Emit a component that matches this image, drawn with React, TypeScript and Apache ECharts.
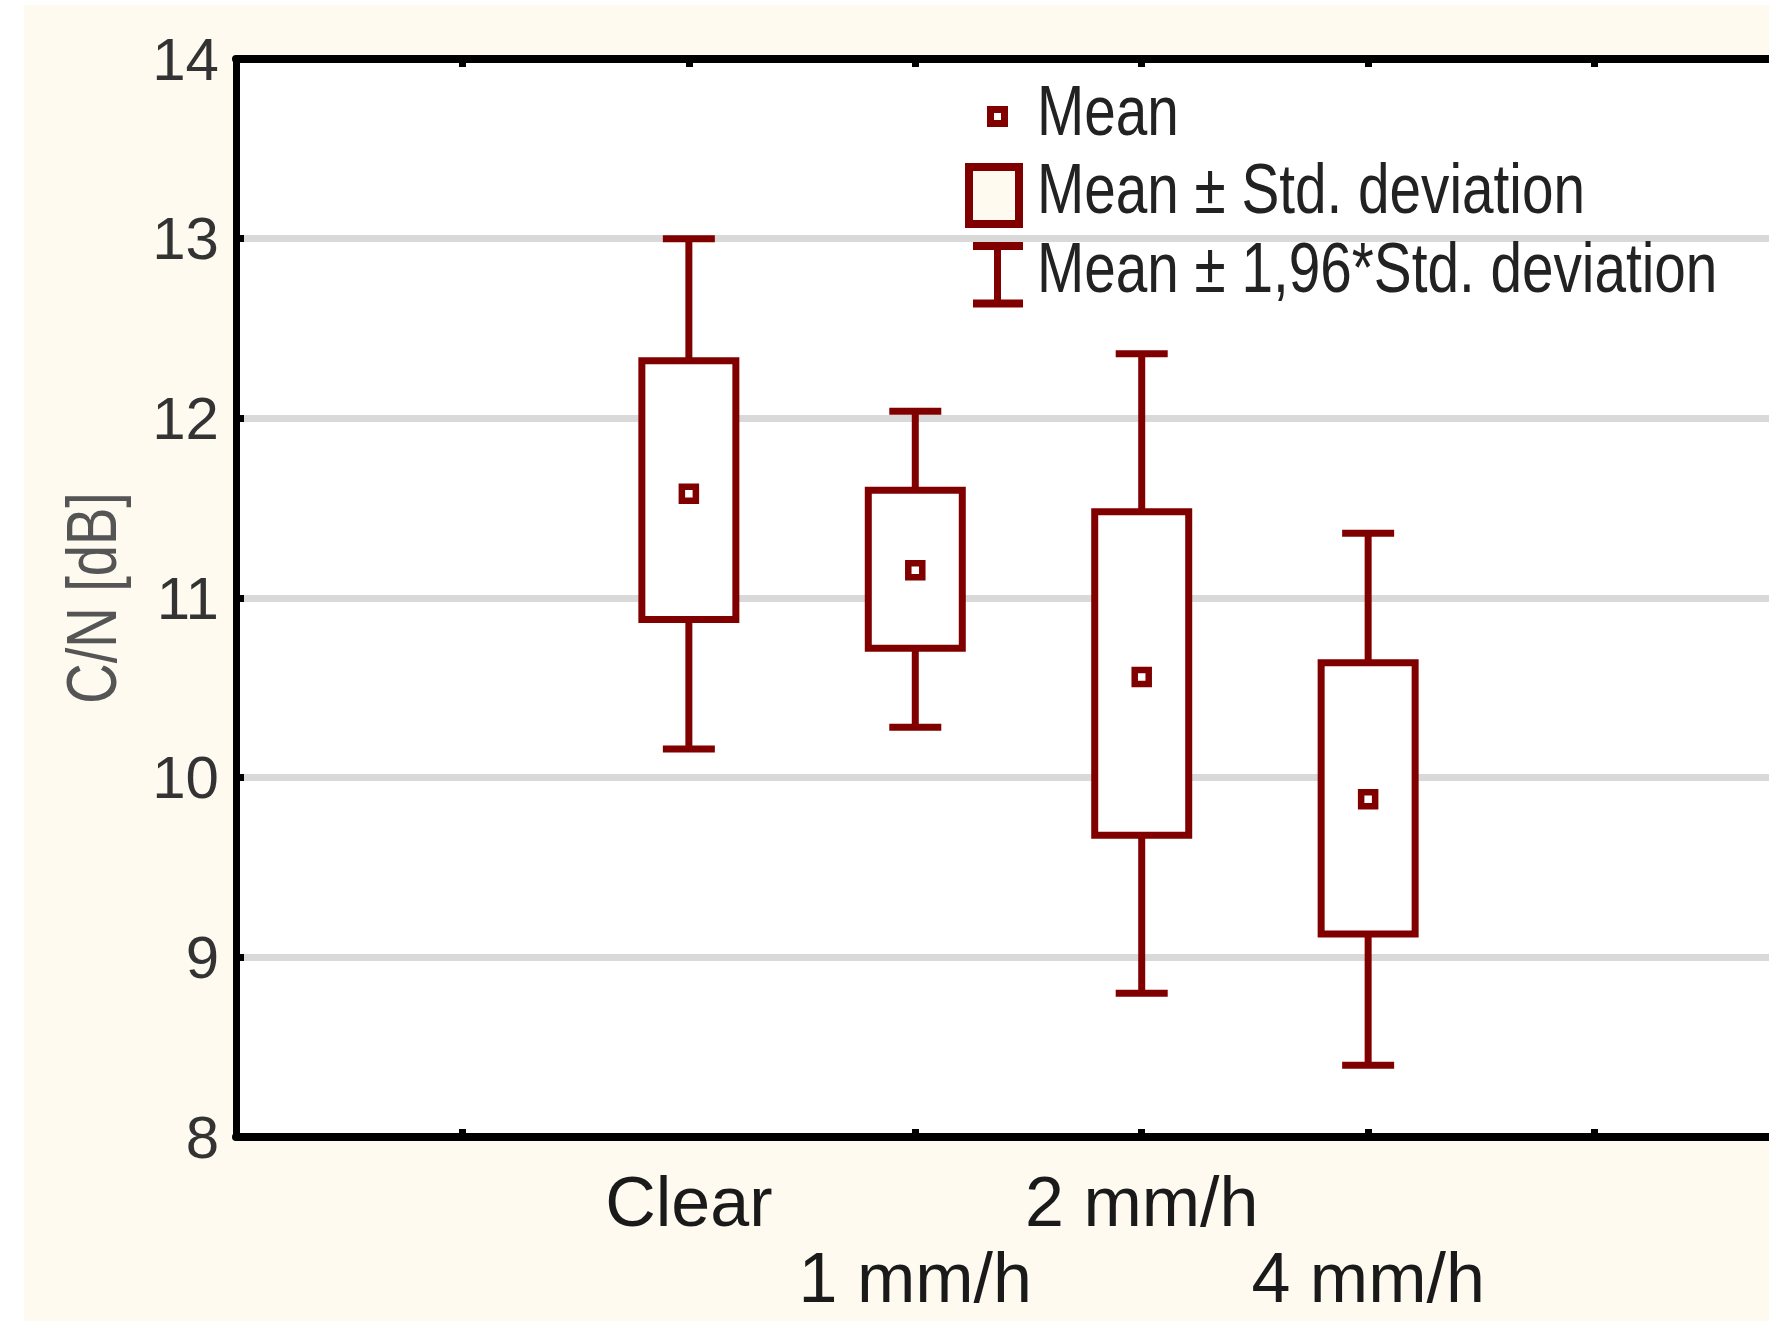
import React, { useEffect, useRef } from "react";
import * as echarts from "echarts";

const categories = ["Clear", "1 mm/h", "2 mm/h", "4 mm/h"];
const positions = [2, 3, 4, 5];
const means = [11.58, 11.155, 10.56, 9.88];
const boxHigh = [12.32, 11.6, 11.48, 10.64];
const boxLow = [10.88, 10.72, 9.68, 9.13];
const whiskerHigh = [13.0, 12.04, 12.36, 11.36];
const whiskerLow = [10.16, 10.28, 8.8, 8.4];
const yTicks = [8, 9, 10, 11, 12, 13, 14];
const bottomTickPositions = [1, 3, 4, 5, 6];
const upperRowPositions = [2, 4];
const lowerRowPositions = [3, 5];
const legendLabels = ["Mean", "Mean ± Std. deviation", "Mean ± 1,96*Std. deviation"];
const yAxisName = "C/N [dB]";

const RED = "#800000";
const CREAM = "#fffaf0";
const SANS = "'Liberation Sans', Arial, sans-serif";

const labelFor = (v: number) => {
  const i = positions.indexOf(Math.round(v));
  return i < 0 ? "" : categories[i];
};

export default function App() {
  const ref = useRef<HTMLDivElement>(null);
  useEffect(() => {
    if (!ref.current) return;
    const chart = echarts.init(ref.current, null, { renderer: "svg" });
    const boxData = positions.map((p, i) => [p, whiskerLow[i], boxLow[i], boxHigh[i], whiskerHigh[i]]);
    const meanData = positions.map((p, i) => [p, means[i]]);
    const baseX = { type: "value", min: 0, max: 7, interval: 1, splitLine: { show: false } };
    const option: any = {
      animation: false,
      backgroundColor: CREAM,
      grid: {
        left: 236,
        top: 59,
        right: -52,
        bottom: 184,
        show: true,
        backgroundColor: "#ffffff",
        borderWidth: 0,
        outerBoundsMode: "none",
        containLabel: false,
      },
      xAxis: [
        {
          ...baseX,
          position: "bottom",
          axisLine: { show: true, lineStyle: { color: "#000", width: 8 } },
          axisTick: {
            show: true,
            inside: true,
            length: 8,
            lineStyle: { color: "#000", width: 7 },
            customValues: bottomTickPositions,
          },
          axisLabel: {
            show: true,
            customValues: upperRowPositions,
            hideOverlap: false,
            fontSize: 70,
            lineHeight: 93,
            margin: 18,
            color: "#1a1a1a",
            fontFamily: SANS,
            formatter: labelFor,
          },
        },
        {
          ...baseX,
          position: "top",
          axisLine: { show: true, lineStyle: { color: "#000", width: 8 } },
          axisTick: { show: true, inside: true, length: 8, lineStyle: { color: "#000", width: 7 } },
          axisLabel: { show: false },
        },
        {
          ...baseX,
          position: "bottom",
          offset: 0,
          axisLine: { show: false },
          axisTick: { show: false },
          axisLabel: {
            show: true,
            customValues: lowerRowPositions,
            hideOverlap: false,
            fontSize: 70,
            lineHeight: 70,
            margin: 106,
            color: "#1a1a1a",
            fontFamily: SANS,
            formatter: labelFor,
          },
        },
      ],
      yAxis: {
        type: "value",
        min: yTicks[0],
        max: yTicks[yTicks.length - 1],
        interval: 1,
        axisLine: { show: true, lineStyle: { color: "#000", width: 7 } },
        axisTick: { show: true, inside: true, length: 8, lineStyle: { color: "#000", width: 7 } },
        axisLabel: { fontSize: 60, margin: 17, color: "#333", fontFamily: SANS },
        splitLine: { show: true, lineStyle: { color: "#d9d9d9", width: 7 } },
      },
      series: [
        {
          type: "custom",
          name: legendLabels[1],
          z: 2,
          data: boxData,
          encode: { x: 0, y: [1, 2, 3, 4] },
          renderItem: (params: any, api: any) => {
            const x = api.value(0);
            const wl = api.coord([x, api.value(1)]);
            const bl = api.coord([x, api.value(2)]);
            const bh = api.coord([x, api.value(3)]);
            const wh = api.coord([x, api.value(4)]);
            const cx = wl[0];
            const boxHalf = 47;
            const capHalf = 26;
            const ls = { stroke: RED, lineWidth: 7, fill: null };
            return {
              type: "group",
              children: [
                { type: "line", shape: { x1: cx, y1: wh[1], x2: cx, y2: bh[1] }, style: ls },
                { type: "line", shape: { x1: cx, y1: bl[1], x2: cx, y2: wl[1] }, style: ls },
                { type: "line", shape: { x1: cx - capHalf, y1: wh[1], x2: cx + capHalf, y2: wh[1] }, style: ls },
                { type: "line", shape: { x1: cx - capHalf, y1: wl[1], x2: cx + capHalf, y2: wl[1] }, style: ls },
                {
                  type: "rect",
                  shape: { x: cx - boxHalf, y: bh[1], width: boxHalf * 2, height: bl[1] - bh[1] },
                  style: { fill: "#ffffff", stroke: RED, lineWidth: 7 },
                },
              ],
            };
          },
        },
        {
          type: "scatter",
          name: legendLabels[0],
          z: 3,
          data: meanData,
          symbol: "rect",
          symbolSize: 14,
          itemStyle: { color: "#ffffff", borderColor: RED, borderWidth: 6.5, opacity: 1 },
        },
      ],
      graphic: [
        { type: "rect", shape: { x: 0, y: 0, width: 1769, height: 5 }, style: { fill: "#ffffff" }, silent: true },
        { type: "rect", shape: { x: 0, y: 0, width: 24, height: 1321 }, style: { fill: "#ffffff" }, silent: true },
        {
          type: "text",
          x: 92,
          y: 598,
          rotation: Math.PI / 2,
          scaleX: 0.8,
          style: {
            text: yAxisName,
            fontSize: 70,
            fontFamily: SANS,
            fill: "#555",
            align: "center",
            verticalAlign: "middle",
          },
        },
        { type: "rect", shape: { x: 990.5, y: 109.5, width: 14, height: 14 }, style: { fill: "#ffffff", stroke: RED, lineWidth: 7 }, z: 10 },
        { type: "rect", shape: { x: 969, y: 167, width: 50, height: 57 }, style: { fill: CREAM, stroke: RED, lineWidth: 8 }, z: 10 },
        { type: "line", shape: { x1: 973, y1: 246, x2: 1023, y2: 246 }, style: { stroke: RED, lineWidth: 8 }, z: 10 },
        { type: "line", shape: { x1: 973, y1: 303.5, x2: 1023, y2: 303.5 }, style: { stroke: RED, lineWidth: 8 }, z: 10 },
        { type: "line", shape: { x1: 997.5, y1: 246, x2: 997.5, y2: 303.5 }, style: { stroke: RED, lineWidth: 7 }, z: 10 },
        ...legendLabels.map((t, i) => ({
          type: "text",
          x: 1037,
          y: [110, 188, 267][i],
          scaleX: 0.81,
          z: 10,
          style: {
            text: t,
            fontSize: 70,
            fontFamily: SANS,
            fill: "#222",
            verticalAlign: "middle",
            align: "left",
          },
        })),
      ],
    };
    chart.setOption(option);
    return () => chart.dispose();
  }, []);
  return (
    <div
      ref={ref}
      style={{ position: "fixed", left: 0, top: 0, width: 1769, height: 1321, background: "#fff", overflow: "hidden" }}
    />
  );
}
